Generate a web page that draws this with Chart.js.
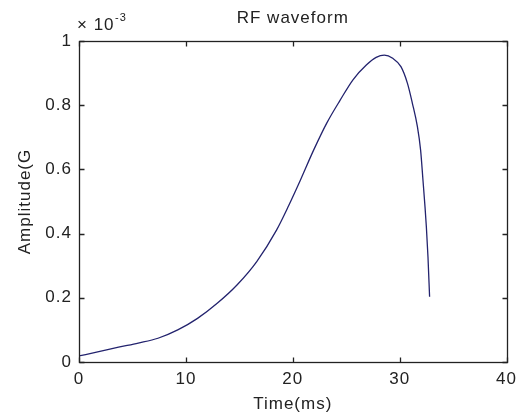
<!DOCTYPE html>
<html>
<head>
<meta charset="utf-8">
<title>RF waveform</title>
<script src="https://cdn.jsdelivr.net/npm/chart.js@4/dist/chart.umd.min.js"></script>
<style>
  html, body { margin: 0; padding: 0; background: #fff; }
  #wrap { width: 524px; height: 419px; }
</style>
</head>
<body>
<div id="wrap"><canvas id="rf-chart"></canvas></div>
<script>
// RF pulse envelope, amplitude in units of 1e-3 G
const timeMs = [0, 1.85, 3.7, 5.54, 7.39, 9.24, 11.09, 12.93, 14.78, 16.63, 18.48, 19.6, 20.72, 21.95, 23.19, 24.42, 25.65, 26.88, 27.8, 28.57, 29.35, 30.12, 30.73, 31.19, 31.66, 31.96, 32.18, 32.37, 32.5, 32.65, 32.8];
const amplitude = [0.019, 0.032, 0.046, 0.059, 0.074, 0.1, 0.136, 0.183, 0.24, 0.313, 0.411, 0.486, 0.567, 0.66, 0.745, 0.815, 0.88, 0.925, 0.949, 0.956, 0.946, 0.92, 0.868, 0.806, 0.733, 0.66, 0.567, 0.484, 0.42, 0.327, 0.203];

const xRange = [0, 40];
const yRange = [0, 1];
const xStep = 10;
const yStep = 0.2;

const FONT = '"Liberation Sans", Arial, Helvetica, sans-serif';
const INK = '#222';

// spread glyphs a bit like the old figure renderer
const spacing = {
  id: 'spacing',
  beforeUpdate(chart) { chart.ctx.letterSpacing = '1px'; },
  beforeDraw(chart) { chart.ctx.letterSpacing = '1px'; }
};

// box around the axes, inward ticks on every side, title and exponent
const axesBox = {
  id: 'axesBox',
  afterDraw(chart) {
    const { ctx, chartArea: a, scales } = chart;
    const L = Math.round(a.left) + 0.5, R = Math.round(a.right) + 0.5;
    const T = Math.round(a.top) + 0.5, B = Math.round(a.bottom) + 0.5;
    const tick = 5;
    ctx.save();
    ctx.strokeStyle = INK;
    ctx.lineWidth = 1.3;
    ctx.strokeRect(L, T, R - L, B - T);
    ctx.beginPath();
    scales.x.ticks.forEach(t => {
      const px = Math.round(scales.x.getPixelForValue(t.value)) + 0.5;
      ctx.moveTo(px, B); ctx.lineTo(px, B - tick);
      ctx.moveTo(px, T); ctx.lineTo(px, T + tick);
    });
    scales.y.ticks.forEach(t => {
      const py = Math.round(scales.y.getPixelForValue(t.value)) + 0.5;
      ctx.moveTo(L, py); ctx.lineTo(L + tick, py);
      ctx.moveTo(R, py); ctx.lineTo(R - tick, py);
    });
    ctx.stroke();

    ctx.fillStyle = INK;
    ctx.letterSpacing = '1px';
    ctx.textBaseline = 'alphabetic';
    ctx.textAlign = 'center';
    ctx.font = '17px ' + FONT;
    ctx.fillText('RF waveform', (a.left + a.right) / 2, 23);

    ctx.textAlign = 'left';
    ctx.font = '17px ' + FONT;
    ctx.fillText('\u00d7 10', a.left - 2, 30);
    ctx.font = '11px ' + FONT;
    ctx.fillText('-3', a.left + 36, 21);
    ctx.restore();
  }
};

const chart = new Chart(document.getElementById('rf-chart'), {
  type: 'line',
  data: {
    datasets: [{
      data: timeMs.map((t, i) => ({ x: t, y: amplitude[i] })),
      borderColor: '#23236e',
      borderWidth: 1.3,
      pointRadius: 0,
      fill: false,
      cubicInterpolationMode: 'monotone'
    }]
  },
  options: {
    responsive: true,
    maintainAspectRatio: false,
    animation: false,
    layout: { padding: { top: 41, right: 12, left: 0, bottom: 0 } },
    plugins: {
      legend: { display: false },
      tooltip: { enabled: false }
    },
    scales: {
      x: {
        type: 'linear',
        min: xRange[0],
        max: xRange[1],
        grid: { display: false, drawTicks: false },
        border: { display: false },
        ticks: { stepSize: xStep, padding: 7, color: INK, font: { family: FONT, size: 17 } },
        title: { display: true, text: 'Time(ms)', color: INK, font: { family: FONT, size: 17 }, padding: { bottom: 4 } },
        afterFit: s => { s.height = 57; }
      },
      y: {
        min: yRange[0],
        max: yRange[1],
        grid: { display: false, drawTicks: false },
        border: { display: false },
        ticks: {
          stepSize: yStep,
          padding: 7,
          color: INK,
          font: { family: FONT, size: 17 },
          callback: v => String(+v.toFixed(1))
        },
        title: { display: true, text: 'Amplitude(G', color: INK, font: { family: FONT, size: 17 }, padding: { top: 15 } },
        afterFit: s => { s.width = 79; }
      }
    }
  },
  plugins: [spacing, axesBox]
});
</script>
</body>
</html>
